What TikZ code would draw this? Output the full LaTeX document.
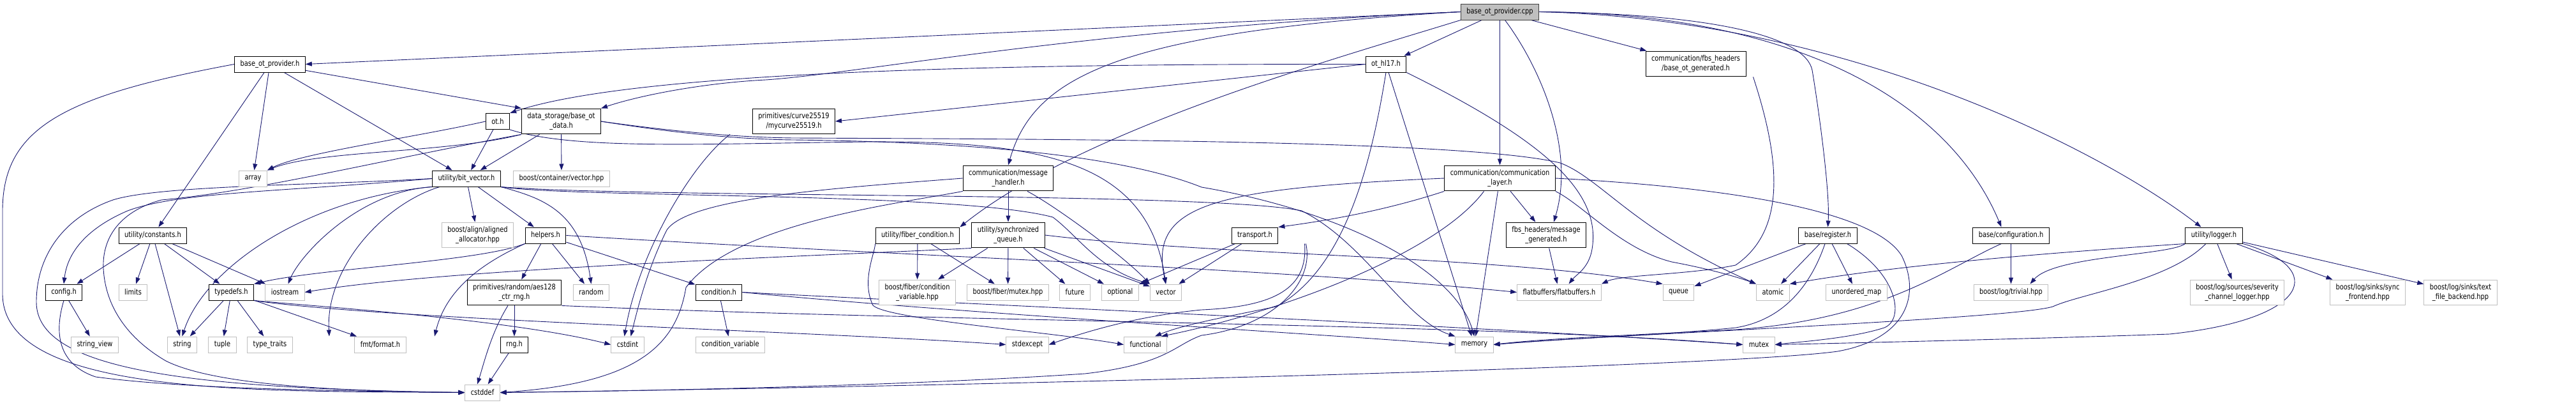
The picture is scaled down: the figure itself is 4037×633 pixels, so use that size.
\documentclass[tikz,border=0pt]{standalone}
\usepackage{fontspec}
\setmainfont{DejaVu Sans}[FakeStretch=0.82]
\usetikzlibrary{arrows.meta}
\definecolor{edgeblue}{HTML}{191970}
\definecolor{sysframe}{HTML}{BFBFBF}
\definecolor{rootfill}{HTML}{BFBFBF}
\pgfdeclarelayer{edges}
\pgfsetlayers{edges,main}

\begin{document}
\begin{tikzpicture}[x=1pt,y=-1pt,>={Triangle[length=10pt,width=7pt]},
  every node/.style={font=\fontsize{12}{15}\selectfont,align=center,inner xsep=9pt,inner ysep=6.5pt,minimum height=25pt},
  hdr/.style={draw=black,line width=1pt,fill=white},
  sys/.style={draw=sysframe,line width=1pt,fill=white},
  root/.style={draw=black!75,line width=1pt,fill=rootfill},
  dep/.style={->,draw=edgeblue,line width=0.9pt}]
  \useasboundingbox (0,0) rectangle (4037,633);

  % files of the project
  \node[root] (cpp) at (2350.5,18.5) {base\_ot\_provider.cpp};
  \node[hdr] (bop) at (423,100.5) {base\_ot\_provider.h};
  \node[hdr] (hl17) at (2172,100.5) {ot\_hl17.h};
  \node[hdr] (fbsbase) at (2657.5,100) {communication/fbs\_headers\\/base\_ot\_generated.h};
  \node[hdr] (oth) at (780,190) {ot.h};
  \node[hdr] (otdata) at (879.5,190) {data\_storage/base\_ot\\\_data.h};
  \node[hdr] (curve) at (1244,190) {primitives/curve25519\\/mycurve25519.h};
  \node[hdr] (bitvec) at (731,279.5) {utility/bit\_vector.h};
  \node[hdr] (msghandler) at (1580,279) {communication/message\\\_handler.h};
  \node[hdr] (commlayer) at (2350.5,279) {communication/communication\\\_layer.h};
  \node[hdr] (constants) at (239.5,368.5) {utility/constants.h};
  \node[hdr] (helpers) at (855,368.5) {helpers.h};
  \node[hdr] (fibercond) at (1438,368.5) {utility/fiber\_condition.h};
  \node[hdr] (syncqueue) at (1580,368) {utility/synchronized\\\_queue.h};
  \node[hdr] (transport) at (1966.5,368.5) {transport.h};
  \node[hdr] (msggen) at (2423,368) {fbs\_headers/message\\\_generated.h};
  \node[hdr] (register) at (2864.5,368.5) {base/register.h};
  \node[hdr] (configuration) at (3151.5,368.5) {base/configuration.h};
  \node[hdr] (logger) at (3469.5,368.5) {utility/logger.h};
  \node[hdr] (config) at (100,457.5) {config.h};
  \node[hdr] (typedefs) at (362.5,457.5) {typedefs.h};
  \node[hdr] (aesrng) at (806,458) {primitives/random/aes128\\\_ctr\_rng.h};
  \node[hdr] (condition) at (1126.5,457.5) {condition.h};
  \node[hdr] (rng) at (806,539.5) {rng.h};

  % system and library headers
  \node[sys] (array) at (396.5,279.5) {array};
  \node[sys] (boostvec) at (880,279.5) {boost/container/vector.hpp};
  \node[sys] (aligned) at (748.5,368) {boost/align/aligned\\\_allocator.hpp};
  \node[sys] (limits) at (208.5,457.5) {limits};
  \node[sys] (iostream) at (446.5,457.5) {iostream};
  \node[sys] (random) at (926.5,457.5) {random};
  \node[sys] (fibercv) at (1437.5,458) {boost/fiber/condition\\\_variable.hpp};
  \node[sys] (fibermutex) at (1579.5,457.5) {boost/fiber/mutex.hpp};
  \node[sys] (future) at (1684.5,457.5) {future};
  \node[sys] (optional) at (1755.5,457.5) {optional};
  \node[sys] (vector) at (1827,457.5) {vector};
  \node[sys] (flatbuffers) at (2443.5,457.5) {flatbuffers/flatbuffers.h};
  \node[sys] (queue) at (2630.5,457.5) {queue};
  \node[sys] (atomic) at (2778.5,457.5) {atomic};
  \node[sys] (unorderedmap) at (2909.5,457.5) {unordered\_map};
  \node[sys] (trivial) at (3151.5,457.5) {boost/log/trivial.hpp};
  \node[sys] (severity) at (3506,458) {boost/log/sources/severity\\\_channel\_logger.hpp};
  \node[sys] (syncfront) at (3710.5,458) {boost/log/sinks/sync\\\_frontend.hpp};
  \node[sys] (textfile) at (3856,458) {boost/log/sinks/text\\\_file\_backend.hpp};
  \node[sys] (stringview) at (148.5,539.5) {string\_view};
  \node[sys] (string) at (285.5,539.5) {string};
  \node[sys] (tuple) at (348.5,539.5) {tuple};
  \node[sys] (typetraits) at (423,539.5) {type\_traits};
  \node[sys] (fmt) at (596,539.5) {fmt/format.h};
  \node[sys] (cstdint) at (983.5,539.5) {cstdint};
  \node[sys] (condvar) at (1144.5,539.5) {condition\_variable};
  \node[sys] (stdexcept) at (1610,539.5) {stdexcept};
  \node[sys] (functional) at (1795,539.5) {functional};
  \node[sys] (memory) at (2310.5,539.5) {memory};
  \node[sys] (mutex) at (2756.5,539.5) {mutex};
  \node[sys] (cstddef) at (756,614.5) {cstddef};

  \begin{pgfonlayer}{edges}
  % base_ot_provider.cpp
  \draw[dep] (cpp.west) -- (bop.east);
  \draw[dep] (cpp.west) .. controls (1700,45) and (1350,115) .. (1200,125) .. controls (1100,130) and (1000,150) .. (otdata.north east);
  \draw[dep] (cpp.west) .. controls (1750,50) and (1620,120) .. (msghandler.north);
  \draw[dep] (cpp.south west) .. controls (2100,90) and (1700,200) .. (fibercond.north east);
  \draw[dep] (cpp) -- (hl17);
  \draw[dep] (cpp) -- (commlayer);
  \draw[dep] ([xshift=8pt]cpp.south) .. controls (2410,100) and (2470,230) .. ([xshift=12pt]msggen.north);
  \draw[dep] (cpp) -- (fbsbase);
  \draw[dep] (cpp.east) .. controls (2700,22) and (2830,60) .. (2840,110) .. controls (2850,170) and (2868,300) .. (register.north);
  \draw[dep] (cpp.east) .. controls (2800,20) and (3050,150) .. ([xshift=-15pt]configuration.north);
  \draw[dep] (cpp.east) .. controls (2900,30) and (3300,240) .. ([xshift=-20pt]logger.north);

  % base_ot_provider.h
  \draw[dep] (bop) -- (array);
  \draw[dep] (bop) -- (bitvec);
  \draw[dep] (bop) -- (otdata.north west);
  \draw[dep] (bop) -- (constants);
  \draw[dep] (bop.west) .. controls (100,150) and (4,200) .. (4,330) -- (4,460) .. controls (4,620) and (400,612) .. (cstddef.west);

  % ot_hl17.h
  \draw[dep] (hl17.west) .. controls (1600,100) and (1000,110) .. (oth.north east);
  \draw[dep] (hl17.west) -- (curve.east);
  \draw[dep] (hl17) -- (memory);
  \draw[dep] (hl17.south east) .. controls (2420,220) and (2510,300) .. (2495,390) .. controls (2490,420) and (2470,430) .. ([xshift=15pt]flatbuffers.north);
  \draw[dep] (hl17.south) .. controls (2150,250) and (2110,420) .. (2000,480) .. controls (1900,500) and (1850,510) .. ([xshift=15pt]functional.north);
  \draw[dep] ([xshift=90pt]fbsbase.south) .. controls (2790,250) and (2800,360) .. (2720,415) .. controls (2650,430) and (2540,430) .. (flatbuffers.north east);

  % ot.h and base_ot_data.h
  \draw[dep] (oth.west) .. controls (650,215) and (470,240) .. (array.north east);
  \draw[dep] (oth) -- (bitvec);
  \draw[dep] (oth.south east) .. controls (900,235) and (1100,225) .. (1360,222) .. controls (1650,220) and (1800,260) .. (vector.north);
  \draw[dep] (otdata.south west) .. controls (700,240) and (500,235) .. (array.north east);
  \draw[dep] (otdata) -- (bitvec);
  \draw[dep] (otdata) -- (boostvec);
  \draw[dep] (otdata.east) .. controls (1050,205) and (1150,215) .. (1244,216) .. controls (1700,218) and (2300,220) .. (2445,255) .. controls (2510,280) and (2560,360) .. (atomic.north west);
  \draw[dep] (otdata.east) .. controls (1050,207) and (1150,218) .. (1244,219) .. controls (1500,222) and (1750,240) .. (1883,293) .. controls (2100,330) and (2280,420) .. (memory.north);
  \draw[dep] (otdata.south west) .. controls (600,250) and (400,300) .. (253,313) .. controls (190,330) and (160,370) .. (162,420) .. controls (165,480) and (200,530) .. (260,565) .. controls (330,600) and (500,612) .. (cstddef.west);
  \draw[dep] ([xshift=-100pt]curve.south) .. controls (1080,260) and (1000,400) .. ([xshift=-5pt]cstdint.north);

  % utility/bit_vector.h
  \draw[dep] (bitvec.west) .. controls (450,300) and (280,300) .. (200,330) .. controls (130,360) and (105,400) .. (config.north);
  \draw[dep] (bitvec.west) .. controls (500,290) and (250,290) .. (177,313) .. controls (100,340) and (57,400) .. (57,473) .. controls (57,580) and (300,608) .. (cstddef.west);
  \draw[dep] (bitvec.south west) .. controls (480,310) and (320,420) .. (string.north);
  \draw[dep] (bitvec.south west) .. controls (560,300) and (470,400) .. ([xshift=5pt]iostream.north);
  \draw[dep] (bitvec) .. controls (600,320) and (510,420) .. ([xshift=-80pt]fmt.north);
  \draw[dep] (bitvec) -- (aligned);
  \draw[dep] (bitvec) -- (helpers);
  \draw[dep] (bitvec.south east) .. controls (850,310) and (910,330) .. (random.north);
  \draw[dep] (bitvec.south east) .. controls (900,310) and (1500,300) .. (1650,340) .. controls (1690,370) and (1720,420) .. (vector.north west);
  \draw[dep] (bitvec.south east) .. controls (1000,310) and (1900,300) .. (2040,330) .. controls (2140,380) and (2200,500) .. (memory.north west);

  % communication/message_handler.h
  \draw[dep] (msghandler) -- (syncqueue);
  \draw[dep] (msghandler.west) .. controls (1300,295) and (1080,310) .. (1045,360) .. controls (1015,420) and (1000,480) .. ([xshift=5pt]cstdint.north);
  \draw[dep] (msghandler.south west) .. controls (1400,320) and (1150,350) .. (1075,450) .. controls (1060,540) and (1000,600) .. (cstddef.east);
  \draw[dep] ([xshift=30pt]msghandler.south) .. controls (1650,320) and (1760,400) .. (vector.north west);

  % communication/communication_layer.h
  \draw[dep] (commlayer.south west) .. controls (2200,320) and (2120,340) .. (transport.north east);
  \draw[dep] (commlayer.west) .. controls (1900,295) and (1800,320) .. (vector.north);
  \draw[dep] (commlayer) -- (msggen);
  \draw[dep] (commlayer) -- (memory);
  \draw[dep] ([xshift=-25pt]commlayer.south) .. controls (2250,400) and (2000,490) .. ([xshift=25pt]functional.north);
  \draw[dep] (commlayer.south east) .. controls (2480,320) and (2540,390) .. (2620,410) .. controls (2700,425) and (2740,440) .. (atomic.north west);
  \draw[dep] (commlayer.east) .. controls (2650,290) and (2930,320) .. (2980,400) .. controls (3010,460) and (2990,530) .. (2880,550) .. controls (2700,575) and (1500,605) .. (cstddef.east);

  % utility/constants.h
  \draw[dep] (constants) -- (config);
  \draw[dep] (constants) -- (limits);
  \draw[dep] (constants) -- (string);
  \draw[dep] (constants) -- (typedefs);
  \draw[dep] (constants) -- (iostream);

  % helpers.h
  \draw[dep] (helpers.south west) .. controls (750,410) and (500,420) .. (typedefs.north east);
  \draw[dep] (helpers.south west) .. controls (760,410) and (700,450) .. ([xshift=85pt]fmt.north);
  \draw[dep] (helpers) -- (aesrng);
  \draw[dep] (helpers) -- (random);
  \draw[dep] (helpers) -- (condition);
  \draw[dep] (helpers.east) .. controls (1400,400) and (2000,420) .. (flatbuffers.west);

  % utility/fiber_condition.h
  \draw[dep] (fibercond) -- (fibercv);
  \draw[dep] (fibercond) -- (fibermutex);
  \draw[dep] (fibercond.south west) .. controls (1370,400) and (1350,440) .. (1368,478) .. controls (1390,500) and (1650,520) .. (functional.west);

  % utility/synchronized_queue.h
  \draw[dep] (syncqueue) -- (fibercv);
  \draw[dep] (syncqueue) -- (fibermutex);
  \draw[dep] (syncqueue) -- (future);
  \draw[dep] (syncqueue) -- (optional);
  \draw[dep] (syncqueue) -- (vector);
  \draw[dep] (syncqueue.south west) .. controls (1300,400) and (700,420) .. (iostream.east);
  \draw[dep] (syncqueue.east) .. controls (1900,400) and (2350,400) .. (queue.north west);

  % transport.h
  \draw[dep] (transport) -- (optional);
  \draw[dep] (transport) -- (vector);
  \draw[dep] ([xshift=78pt]transport.south) .. controls (2050,450) and (2000,480) .. (1883,485) .. controls (1780,495) and (1700,520) .. (stdexcept.east);
  \draw[dep] ([xshift=80pt]transport.south) .. controls (2060,440) and (2000,510) .. (1883,525) .. controls (1840,540) and (1830,570) .. (1700,585) .. controls (1400,605) and (1000,612) .. (cstddef.east);

  % fbs_headers/message_generated.h
  \draw[dep] (msggen) -- (flatbuffers);

  % base/register.h
  \draw[dep] (register) -- (queue);
  \draw[dep] (register) -- (atomic);
  \draw[dep] (register) -- (unorderedmap);
  \draw[dep] (register) .. controls (2840,440) and (2800,500) .. (2720,513) .. controls (2600,525) and (2450,530) .. (memory.east);
  \draw[dep] ([xshift=30pt]register.south) .. controls (2975,430) and (2985,500) .. (2953,513) .. controls (2900,530) and (2820,535) .. (mutex.east);

  % base/configuration.h
  \draw[dep] (configuration) -- (trivial);
  \draw[dep] ([xshift=-15pt]configuration.south) .. controls (3050,420) and (2950,500) .. (2720,516) .. controls (2550,525) and (2420,530) .. (memory.east);

  % utility/logger.h
  \draw[dep] (logger.south west) .. controls (3300,390) and (3000,410) .. (atomic.north east);
  \draw[dep] (logger.south west) .. controls (3400,400) and (3220,400) .. ([xshift=30pt]trivial.north);
  \draw[dep] (logger) .. controls (3400,440) and (3260,460) .. (3217,480) .. controls (3150,500) and (2500,525) .. (memory.east);
  \draw[dep] (logger) -- (severity);
  \draw[dep] (logger) .. controls (3650,420) and (3620,500) .. (3400,523) .. controls (3200,530) and (2900,537) .. (mutex.east);
  \draw[dep] (logger) -- (syncfront);
  \draw[dep] (logger) -- (textfile);

  % config.h and typedefs.h
  \draw[dep] (config) -- (stringview);
  \draw[dep] (config.south) .. controls (85,520) and (90,570) .. (150,590) .. controls (300,610) and (550,612) .. (cstddef.west);
  \draw[dep] (typedefs) -- (string);
  \draw[dep] (typedefs) -- (tuple);
  \draw[dep] (typedefs) -- (typetraits);
  \draw[dep] (typedefs) -- (fmt);
  \draw[dep] (typedefs.south east) .. controls (500,480) and (800,500) .. (cstdint.west);
  \draw[dep] (typedefs.south east) .. controls (600,500) and (1300,520) .. (stdexcept.west);

  % random numbers, condition.h
  \draw[dep] (aesrng) -- (rng);
  \draw[dep] ([xshift=-10pt]aesrng.south) .. controls (770,520) and (758,570) .. ([xshift=-8pt]cstddef.north);
  \draw[dep] (rng) -- (cstddef);
  \draw[dep] (aesrng.south east) .. controls (1500,505) and (2300,505) .. (mutex.west);
  \draw[dep] (condition) -- (condvar);
  \draw[dep] (condition.east) .. controls (1500,490) and (2100,525) .. (memory.west);
  \draw[dep] (condition.east) .. controls (1600,480) and (2300,510) .. (mutex.west);
  \end{pgfonlayer}
\end{tikzpicture}
\end{document}
